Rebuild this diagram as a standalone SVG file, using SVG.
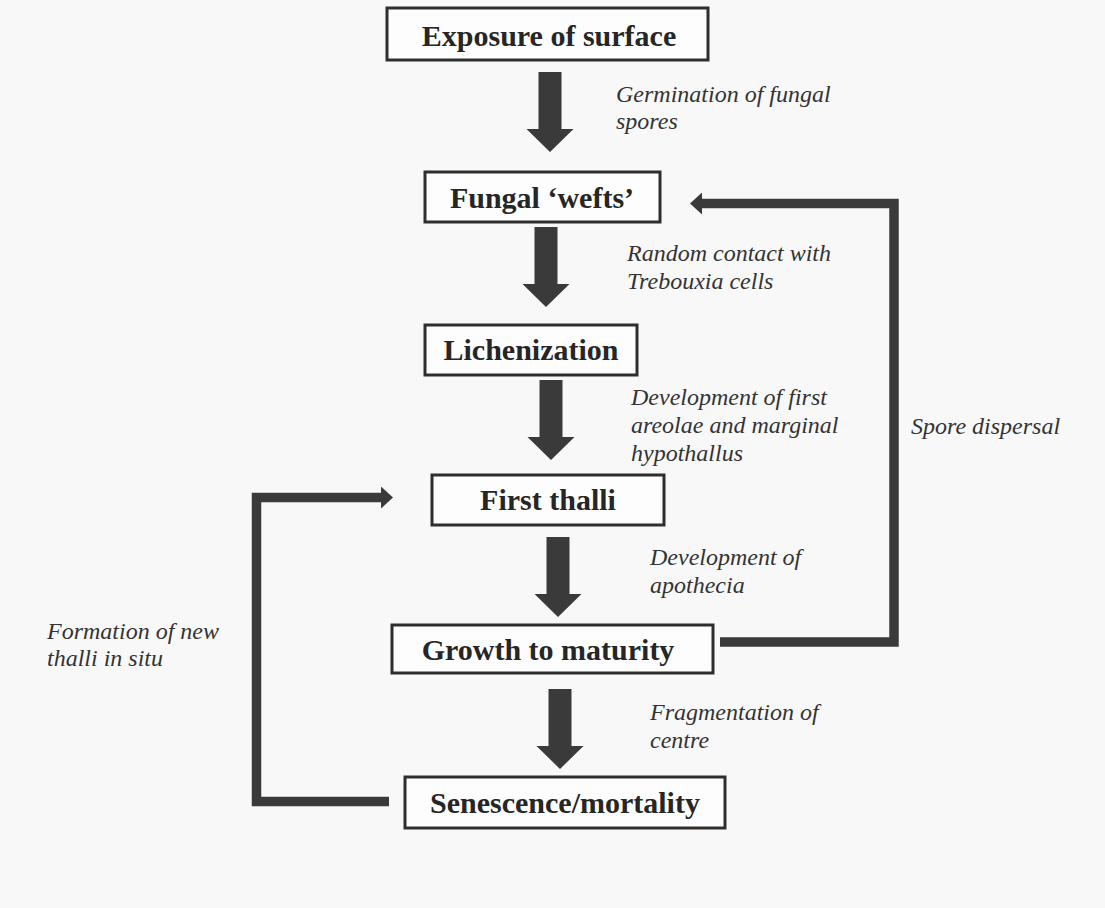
<svg xmlns="http://www.w3.org/2000/svg" xmlns:xlink="http://www.w3.org/1999/xlink" width="1105" height="908" viewBox="0 0 1105 908">
  <style>
    .box { fill: #fdfdfd; stroke: #2e2e2e; stroke-width: 3; }
    .title { font-family: "Liberation Serif", "Times New Roman", serif; font-weight: bold; font-size: 30px; fill: #262626; text-anchor: middle; }
    .note { font-family: "Liberation Serif", "Times New Roman", serif; font-style: italic; font-size: 24px; fill: #333333; }
    .flow { fill: #3a3a3a; }
    .loop { fill: none; stroke: #3a3a3a; stroke-width: 9.5; stroke-linejoin: miter; stroke-linecap: butt; }
  </style>
  <defs>
    <polygon id="down" class="flow" points="-11.5,0 11.5,0 11.5,57 23.5,57 0,80 -23.5,57 -11.5,57"/>
    <marker id="head" viewBox="0 0 12 22" markerWidth="12" markerHeight="22" refX="2" refY="11" orient="auto" markerUnits="userSpaceOnUse">
      <path d="M0,0 L12,11 L0,22 Z" fill="#3a3a3a"/>
    </marker>
  </defs>
  <rect width="1105" height="908" fill="#f8f8f8"/>

  <g id="connectors">
    <use xlink:href="#down" x="550" y="72"/>
    <use xlink:href="#down" x="546" y="227"/>
    <use xlink:href="#down" x="551" y="380"/>
    <use xlink:href="#down" x="558" y="537"/>
    <use xlink:href="#down" x="560" y="689"/>
    <polyline class="loop" points="720,642 894,642 894,203.5 700,203.5" marker-end="url(#head)"/>
    <polyline class="loop" points="389,801.5 256.5,801.5 256.5,497.5 383,497.5" marker-end="url(#head)"/>
  </g>

  <g id="node-exposure">
    <rect class="box" x="387" y="8" width="321" height="52"/>
    <text class="title" x="549" y="46">Exposure of surface</text>
  </g>
  <g id="node-wefts">
    <rect class="box" x="425" y="172" width="235" height="50"/>
    <text class="title" x="542" y="208">Fungal ‘wefts’</text>
  </g>
  <g id="node-lichenization">
    <rect class="box" x="425" y="325" width="212" height="50"/>
    <text class="title" x="531" y="360">Lichenization</text>
  </g>
  <g id="node-first-thalli">
    <rect class="box" x="432" y="475" width="232" height="50"/>
    <text class="title" x="548" y="510">First thalli</text>
  </g>
  <g id="node-growth">
    <rect class="box" x="392" y="625" width="321" height="48"/>
    <text class="title" x="548" y="660">Growth to maturity</text>
  </g>
  <g id="node-senescence">
    <rect class="box" x="405" y="777" width="320" height="51"/>
    <text class="title" x="565" y="813">Senescence/mortality</text>
  </g>

  <g id="labels">
    <text class="note" x="616" y="102">Germination of fungal</text>
    <text class="note" x="616" y="129">spores</text>
    <text class="note" x="627" y="261">Random contact with</text>
    <text class="note" x="627" y="289">Trebouxia cells</text>
    <text class="note" x="631" y="405">Development of first</text>
    <text class="note" x="631" y="433">areolae and marginal</text>
    <text class="note" x="631" y="461">hypothallus</text>
    <text class="note" x="911" y="434">Spore dispersal</text>
    <text class="note" x="650" y="565">Development of</text>
    <text class="note" x="650" y="593">apothecia</text>
    <text class="note" x="47" y="639">Formation of new</text>
    <text class="note" x="47" y="666">thalli in situ</text>
    <text class="note" x="650" y="720">Fragmentation of</text>
    <text class="note" x="650" y="748">centre</text>
  </g>
</svg>
